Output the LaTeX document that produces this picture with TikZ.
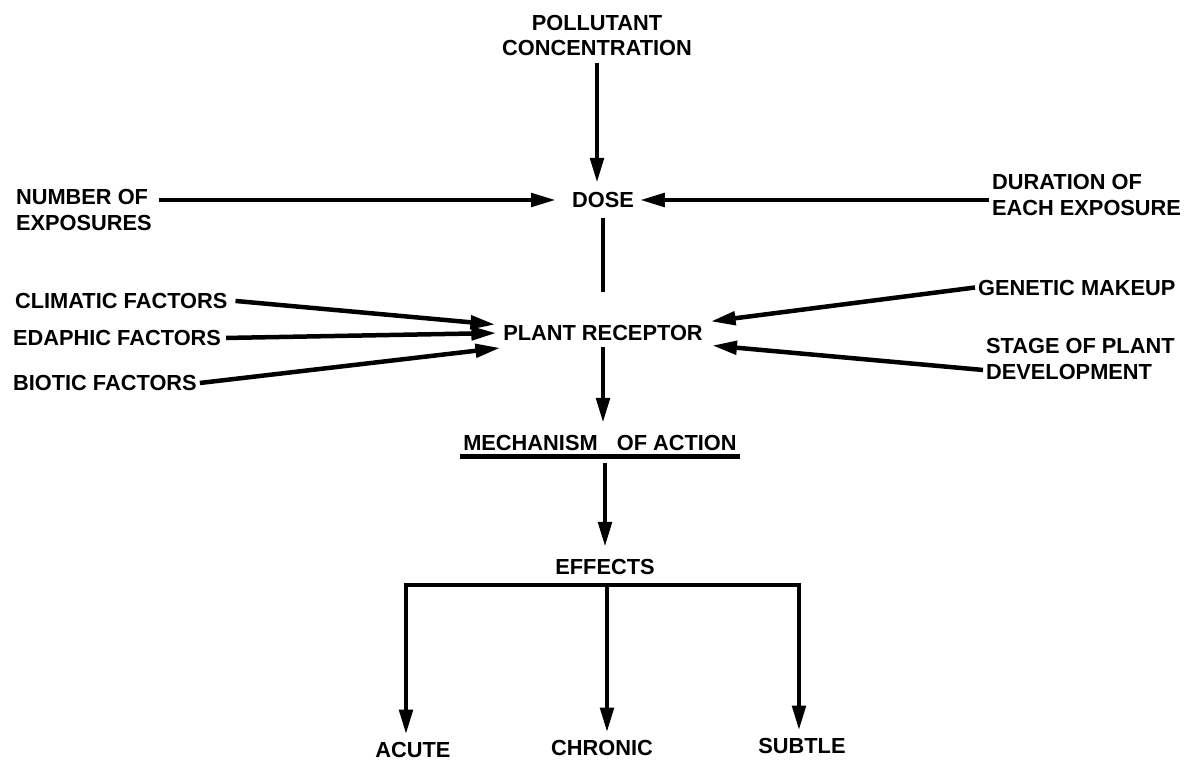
\documentclass[tikz,border=0pt]{standalone}
\usepackage{fontspec}
\setmainfont{Liberation Sans}
\usetikzlibrary{arrows.meta,positioning,calc}

\begin{document}
\begin{tikzpicture}[x=0.025cm,y=-0.025cm,>={Triangle[length=6.2mm,width=3.3mm]},
    every node/.style={font=\fontsize{15.5}{18}\selectfont\bfseries,inner sep=2pt},
    flow/.style={->,line width=3.2pt},
    bar/.style={line width=3.2pt}]
    \useasboundingbox (0,0) rectangle (1186,761);

    % Dose and what sets it
    \node[align=center] (pollutant) at (597,35.5) {POLLUTANT\\CONCENTRATION};
    \node (dose) at (603,200) {DOSE};
    \node[anchor=west,align=left] (number) at (13,210) {NUMBER OF\\EXPOSURES};
    \node[anchor=west,align=left] (duration) at (989,195) {DURATION OF\\EACH EXPOSURE};

    \draw[flow,shorten <=1mm,shorten >=1.6mm] (pollutant.south) -- (pollutant.south |- dose.north);
    \draw[flow,shorten <=1mm,shorten >=3.3mm] (number.east |- dose) -- (dose.west);
    \draw[flow,shorten >=0.75mm] (duration.west |- dose) -- (dose.east);

    % Plant receptor and the factors acting on it
    \node (receptor) at (603,333) {PLANT RECEPTOR};
    \node[anchor=west] (climatic) at (12,300.5) {CLIMATIC FACTORS};
    \node[anchor=west] (edaphic) at (10,338) {EDAPHIC FACTORS};
    \node[anchor=west] (biotic) at (10,383) {BIOTIC FACTORS};
    \node[anchor=west] (genetic) at (975,287.5) {GENETIC MAKEUP};
    \node[anchor=west,align=left] (stage) at (983,359) {STAGE OF PLANT\\DEVELOPMENT};

    \draw[bar,shorten <=1.7mm,shorten >=7.6mm] (dose.south) -- (dose.south |- receptor.north);
    \draw[flow,shorten <=1.25mm,shorten >=1.25mm] (climatic.east) -- ([yshift=5.7pt]receptor.west);
    \draw[flow,shorten <=0.5mm,shorten >=1mm] (edaphic.east) -- (receptor.west);
    \draw[flow] (biotic.east) -- ([yshift=-10.6pt]receptor.west);
    \draw[flow,shorten >=1.25mm] (genetic.west) -- ([yshift=7.8pt]receptor.east);
    \draw[flow,shorten >=1.6mm] ([yshift=-7.8pt]stage.west) -- ([yshift=-8.5pt]receptor.east);

    % Mechanism of action
    \node (mechanism) at (600,443) {MECHANISM\hspace{0.6em} OF ACTION};
    \draw[bar] ([yshift=-2pt]mechanism.south west) -- ([yshift=-2pt]mechanism.south east);
    \draw[flow,shorten <=0.9mm,shorten >=2.35mm] (receptor.south) -- (receptor.south |- mechanism.north);

    % Effects and the three kinds
    \node (effects) at (605,567) {EFFECTS};
    \node (acute) at (413,750) {ACUTE};
    \node (chronic) at (602,748) {CHRONIC};
    \node (subtle) at (802,746) {SUBTLE};
    \draw[flow,shorten <=2.35mm,shorten >=2.35mm] (effects.north |- mechanism.south) -- (effects.north);

    \coordinate (brA) at (406,585);
    \coordinate (brB) at (607,585);
    \coordinate (brC) at (799,585);
    \draw[flow,<->,line join=miter,shorten <=1.2mm,shorten >=1.2mm]
        (brA |- acute.north) -- (brA) -- (brC) -- (brC |- subtle.north);
    \draw[flow,shorten >=1.2mm] (brB) -- (brB |- chronic.north);
\end{tikzpicture}
\end{document}
